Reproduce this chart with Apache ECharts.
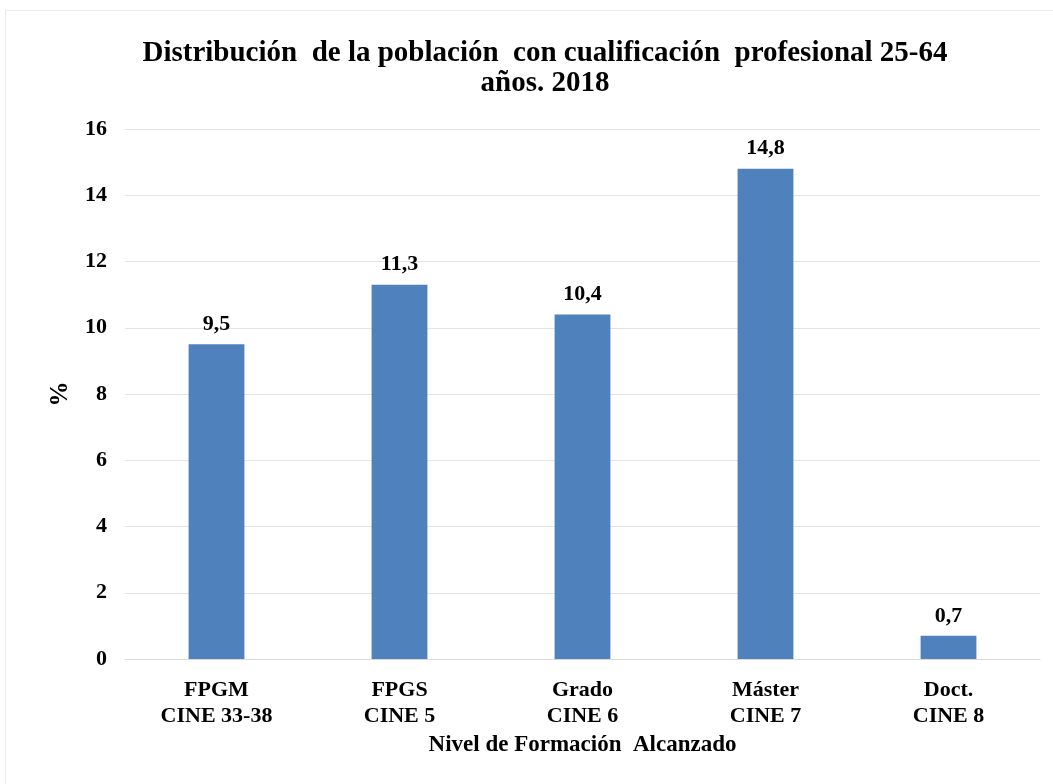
<!DOCTYPE html>
<html>
<head>
<meta charset="utf-8">
<script src="https://cdn.jsdelivr.net/npm/echarts@6/dist/echarts.min.js"></script>
<style>
html,body{margin:0;padding:0;background:#fff;}
#frame{position:absolute;left:5px;top:10px;width:1060px;height:790px;border-left:1px solid #ececec;border-top:1px solid #ececec;}
#chart{position:absolute;left:0;top:0;width:1053px;height:784px;}
</style>
</head>
<body>
<div id="frame"></div>
<div id="chart"></div>
<script>
const categories = ['FPGM\nCINE 33-38', 'FPGS\nCINE 5', 'Grado\nCINE 6', 'Máster\nCINE 7', 'Doct.\nCINE 8'];
const values = [9.5, 11.3, 10.4, 14.8, 0.7];
const titleText = 'Distribución  de la población  con cualificación  profesional 25-64\naños. 2018';
const xAxisName = 'Nivel de Formación  Alcanzado';
const yAxisName = '%';

const serif = '"Liberation Serif", "DejaVu Serif", serif';
const chart = echarts.init(document.getElementById('chart'), null, {renderer: 'canvas'});
chart.setOption({
  animation: false,
  title: {
    text: titleText,
    left: 540,
    textAlign: 'center',
    top: 34,
    textStyle: {fontFamily: serif, fontWeight: 'bold', fontSize: 29, color: '#000', lineHeight: 30}
  },
  grid: {left: 125, right: 13, top: 129, bottom: 125, containLabel: false},
  xAxis: {
    type: 'category',
    data: categories,
    name: xAxisName,
    nameLocation: 'middle',
    nameGap: 75,
    nameTextStyle: {fontFamily: serif, fontWeight: 'bold', fontSize: 23, color: '#000'},
    axisLine: {show: true, lineStyle: {color: '#d9d9d9', width: 1}},
    axisTick: {show: false},
    axisLabel: {fontFamily: serif, fontWeight: 'bold', fontSize: 22, color: '#000', margin: 18, lineHeight: 26}
  },
  yAxis: {
    type: 'value',
    min: 0, max: 16, interval: 2,
    name: yAxisName,
    nameLocation: 'middle',
    nameGap: 52,
    nameRotate: 90,
    nameTextStyle: {fontFamily: serif, fontWeight: 'bold', fontSize: 25, color: '#000'},
    axisLine: {show: false},
    axisTick: {show: false},
    axisLabel: {fontFamily: serif, fontWeight: 'bold', fontSize: 22, color: '#000', margin: 18},
    splitLine: {lineStyle: {color: '#e3e3e3', width: 1}}
  },
  series: [{
    type: 'bar',
    data: values,
    barWidth: '30.5%',
    itemStyle: {color: '#4f81bd'},
    label: {
      show: true,
      position: 'top',
      distance: 9,
      fontFamily: serif, fontWeight: 'bold', fontSize: 22, color: '#000',
      formatter: p => String(p.value).replace('.', ',')
    }
  }]
});
</script>
</body>
</html>
